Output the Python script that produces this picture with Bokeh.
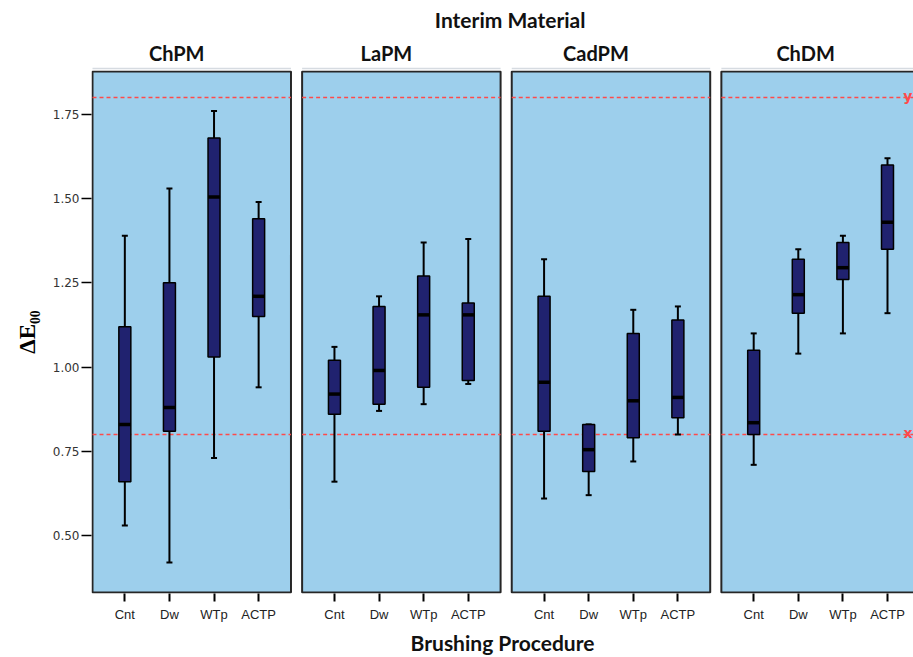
from bokeh.plotting import figure
from bokeh.layouts import column
from bokeh.models import Range1d, FixedTicker, Title
from bokeh.core.properties import value
from bokeh.embed import file_html
from bokeh.resources import INLINE

# ---------------- data ----------------
materials = ["ChPM", "LaPM", "CadPM", "ChDM"]
procedures = ["Cnt", "Dw", "WTp", "ACTP"]

# box statistics, material-major order (ChPM x4, LaPM x4, CadPM x4, ChDM x4)
whisker_low = [0.53, 0.42, 0.73, 0.94,
               0.66, 0.87, 0.89, 0.95,
               0.61, 0.62, 0.72, 0.80,
               0.71, 1.04, 1.10, 1.16]
quart_1 = [0.66, 0.81, 1.03, 1.15,
           0.86, 0.89, 0.94, 0.96,
           0.81, 0.69, 0.79, 0.85,
           0.80, 1.16, 1.26, 1.35]
medians = [0.83, 0.88, 1.505, 1.21,
           0.92, 0.99, 1.155, 1.155,
           0.955, 0.755, 0.90, 0.91,
           0.835, 1.215, 1.295, 1.43]
quart_3 = [1.12, 1.25, 1.68, 1.44,
           1.02, 1.18, 1.27, 1.19,
           1.21, 0.83, 1.10, 1.14,
           1.05, 1.32, 1.37, 1.60]
whisker_high = [1.39, 1.53, 1.76, 1.49,
                1.06, 1.21, 1.37, 1.38,
                1.32, 0.83, 1.17, 1.18,
                1.10, 1.35, 1.39, 1.62]

limit_values = [0.8, 1.8]
limit_labels = ["x", "y"]
y_ticks = [0.5, 0.75, 1.0, 1.25, 1.5, 1.75]

# ---------------- layout (pixels / styling) ----------------
FIG_W = 913
HEAD_H = 70
MAIN_H = 587
BORDER_L, BORDER_B = 91, 64
FRAME_W = FIG_W - BORDER_L
FRAME_H = MAIN_H - BORDER_B
UX = 4.46          # px per x unit
SP = 10            # category spacing (x units)
PER = 47           # panel period (x units)
MARG = 7.25        # panel margin around outer categories (x units)
PX_PER_Y = 337.0   # px per y unit

x_start = -MARG - 1.0 / UX
x_end = x_start + FRAME_W / UX
y_top = 1.8 + 27.0 / PX_PER_Y
y_bot = y_top - FRAME_H / PX_PER_Y

def dy(px):
    return px / PX_PER_Y

def dx(px):
    return px / UX

PANEL_FILL = "#9dcfec"
BOX_FILL = "#20226f"
RED = "#ff4a4a"
HEAD_FONT = "Lato"

xr = Range1d(x_start, x_end)

# ---------- main plot ----------
p = figure(width=FIG_W, height=MAIN_H, output_backend="svg", toolbar_location=None,
           x_range=xr, y_range=Range1d(y_bot, y_top),
           min_border_left=BORDER_L, min_border_right=0,
           min_border_top=0, min_border_bottom=BORDER_B)
p.outline_line_color = None
p.background_fill_color = "white"
p.border_fill_color = "white"
p.xgrid.visible = False
p.ygrid.visible = False

nM, nP = len(materials), len(procedures)
p_left = [k * PER - MARG for k in range(nM)]
p_right = [k * PER + (nP - 1) * SP + MARG for k in range(nM)]
p.quad(left=p_left, right=p_right,
       bottom=[y_bot + dy(1)] * nM, top=[y_top - dy(1)] * nM,
       fill_color=PANEL_FILL, line_color="#262626", line_width=2)

for lv in limit_values:
    p.segment(x0=p_left, x1=p_right, y0=[lv] * nM, y1=[lv] * nM,
              line_color=RED, line_width=1.6, line_dash="4 3")
p.text(x=[x_end] * len(limit_values), y=limit_values, text=limit_labels,
       text_align="right", text_baseline="alphabetic", x_offset=-1, y_offset=-2,
       text_color=RED, text_font=value("DejaVu Sans"), text_font_style="bold",
       text_font_size="14px")

xs = [k * PER + j * SP for k in range(nM) for j in range(nP)]
BW = dx(12)
CW = dx(6)
p.segment(x0=xs, x1=xs, y0=whisker_low, y1=whisker_high, line_color="black", line_width=2)
p.segment(x0=[x - CW / 2 for x in xs], x1=[x + CW / 2 for x in xs],
          y0=whisker_low, y1=whisker_low, line_color="black", line_width=2)
p.segment(x0=[x - CW / 2 for x in xs], x1=[x + CW / 2 for x in xs],
          y0=whisker_high, y1=whisker_high, line_color="black", line_width=2)
p.vbar(x=xs, width=BW, bottom=quart_1, top=quart_3,
       fill_color=BOX_FILL, line_color="black", line_width=1.5)
p.segment(x0=[x - BW / 2 for x in xs], x1=[x + BW / 2 for x in xs],
          y0=medians, y1=medians, line_color="black", line_width=3.5)

# x axis
p.xaxis.ticker = FixedTicker(ticks=xs)
p.xaxis.major_label_overrides = {x: procedures[i % nP] for i, x in enumerate(xs)}
p.xaxis.axis_line_color = None
p.xaxis.major_tick_out = 8
p.xaxis.major_tick_in = 0
p.xaxis.major_tick_line_width = 2
p.xaxis.major_tick_line_color = "black"
p.xaxis.minor_tick_line_color = None
p.xaxis.major_label_standoff = 5
p.xaxis.major_label_text_font = "Liberation Sans"
p.xaxis.major_label_text_font_size = "13px"
p.xaxis.major_label_text_color = "#222222"

# y axis
p.yaxis.ticker = FixedTicker(ticks=y_ticks)
p.yaxis.major_label_overrides = {t: f"{t:.2f}" for t in y_ticks}
p.yaxis.axis_line_color = None
p.yaxis.major_tick_out = 10
p.yaxis.major_tick_in = 0
p.yaxis.major_tick_line_width = 1.5
p.yaxis.major_tick_line_color = "black"
p.yaxis.minor_tick_line_color = None
p.yaxis.major_label_standoff = 2
p.yaxis.major_label_text_font = "DejaVu Sans"
p.yaxis.major_label_text_font_size = "12px"
p.yaxis.major_label_text_color = "#333333"
p.yaxis.axis_label = "ΔE₀₀"
p.yaxis.axis_label_text_font = "Liberation Serif"
p.yaxis.axis_label_text_font_style = "bold"
p.yaxis.axis_label_text_font_size = "23px"
p.yaxis.axis_label_text_color = "black"
p.yaxis.axis_label_standoff = 10

p.add_layout(Title(text="Brushing Procedure", align="center", offset=6, standoff=6,
                   text_font=HEAD_FONT, text_font_style="bold", text_font_size="21px",
                   text_color="#111111"), "below")

# ---------- header strip ----------
h = figure(width=FIG_W, height=HEAD_H, output_backend="svg", toolbar_location=None,
           x_range=xr, y_range=Range1d(0, HEAD_H), x_axis_type=None, y_axis_type=None,
           min_border_left=BORDER_L, min_border_right=0, min_border_top=0, min_border_bottom=0)
h.outline_line_color = None
h.xgrid.visible = False
h.ygrid.visible = False
h.background_fill_color = "white"
h.border_fill_color = "white"

center_x = (p_left[0] + p_right[-1]) / 2
h.text(x=[center_x + dx(4)], y=[HEAD_H - 19], text=["Interim Material"],
       text_align="center", text_baseline="middle", text_font=value(HEAD_FONT),
       text_font_style="bold", text_font_size="21px", text_color="#111111")
h.text(x=[k * PER + (nP - 1) * SP / 2 - dx(15) for k in range(nM)], y=[HEAD_H - 52] * nM,
       text=materials, text_align="center", text_baseline="middle", text_font=value(HEAD_FONT),
       text_font_style="bold", text_font_size="20px", text_color="#111111")
h.segment(x0=p_left, x1=p_right, y0=[2] * nM, y1=[2] * nM, line_color="#d6dbe1", line_width=1.5)

layout = column(h, p, spacing=0)
open("out.html", "w").write(file_html(layout, INLINE))
